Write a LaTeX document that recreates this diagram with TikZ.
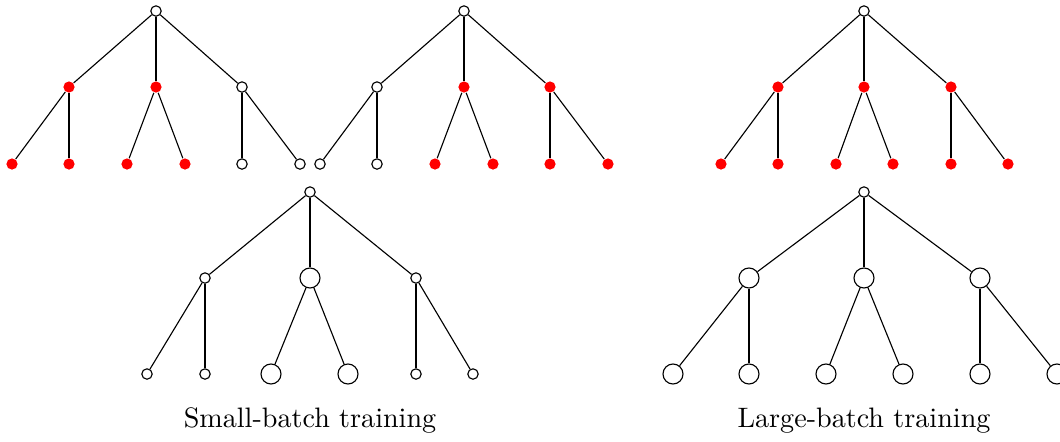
\documentclass[tikz,border=0pt]{standalone}
\begin{document}
\begin{tikzpicture}[x = 0.0125cm, y = -0.0125cm,
        wnode/.style = {circle, draw, fill = white, inner sep = 0pt, minimum size = 0.13cm},
        rnode/.style = {circle, fill = red, inner sep = 0pt, minimum size = 0.14cm},
        bnode/.style = {circle, draw, fill = white, inner sep = 0pt, minimum size = 0.25cm}]
        \useasboundingbox (0, 0) rectangle (1060, 441);
        % small batch, first step
        \node [wnode] (t1) at (156, 11) {};
        \node [rnode] (t1a) at (69, 87) {};
        \node [rnode] (t1b) at (156, 87) {};
        \node [wnode] (t1c) at (242, 87) {};
        \node [rnode] (t1a1) at (12, 164) {};
        \node [rnode] (t1a2) at (69, 164) {};
        \node [rnode] (t1b1) at (127, 164) {};
        \node [rnode] (t1b2) at (185, 164) {};
        \node [wnode] (t1c1) at (242, 164) {};
        \node [wnode] (t1c2) at (300, 164) {};
        % small batch, second step
        \node [wnode] (t2) at (464, 11) {};
        \node [wnode] (t2a) at (377, 87) {};
        \node [rnode] (t2b) at (464, 87) {};
        \node [rnode] (t2c) at (550, 87) {};
        \node [wnode] (t2a1) at (320, 164) {};
        \node [wnode] (t2a2) at (377, 164) {};
        \node [rnode] (t2b1) at (435, 164) {};
        \node [rnode] (t2b2) at (493, 164) {};
        \node [rnode] (t2c1) at (550, 164) {};
        \node [rnode] (t2c2) at (608, 164) {};
        % large batch
        \node [wnode] (t3) at (864, 11) {};
        \node [rnode] (t3a) at (778, 87) {};
        \node [rnode] (t3b) at (864, 87) {};
        \node [rnode] (t3c) at (951, 87) {};
        \node [rnode] (t3a1) at (721, 164) {};
        \node [rnode] (t3a2) at (778, 164) {};
        \node [rnode] (t3b1) at (836, 164) {};
        \node [rnode] (t3b2) at (893, 164) {};
        \node [rnode] (t3c1) at (951, 164) {};
        \node [rnode] (t3c2) at (1008, 164) {};
        % small batch result
        \node [wnode] (t4) at (310, 192) {};
        \node [wnode] (t4a) at (205, 278) {};
        \node [bnode] (t4b) at (310, 278) {};
        \node [wnode] (t4c) at (416, 278) {};
        \node [wnode] (t4a1) at (147, 374) {};
        \node [wnode] (t4a2) at (205, 374) {};
        \node [bnode] (t4b1) at (271, 374) {};
        \node [bnode] (t4b2) at (348, 374) {};
        \node [wnode] (t4c1) at (416, 374) {};
        \node [wnode] (t4c2) at (473, 374) {};
        % large batch result
        \node [wnode] (t5) at (864, 192) {};
        \node [bnode] (t5a) at (749, 278) {};
        \node [bnode] (t5b) at (864, 278) {};
        \node [bnode] (t5c) at (980, 278) {};
        \node [bnode] (t5a1) at (673, 374) {};
        \node [bnode] (t5a2) at (749, 374) {};
        \node [bnode] (t5b1) at (826, 374) {};
        \node [bnode] (t5b2) at (903, 374) {};
        \node [bnode] (t5c1) at (980, 374) {};
        \node [bnode] (t5c2) at (1057, 374) {};
        \foreach \t in {1, ..., 5} {
            \foreach \c in {a, b, c} {
                \draw (t\t) -- (t\t\c);
                \draw (t\t\c) -- (t\t\c1);
                \draw (t\t\c) -- (t\t\c2);
            }
        }
        \node [anchor = base] (small) at (310, 427) {Small-batch training};
        \node [anchor = base] (large) at (864, 427) {Large-batch training};
    \end{tikzpicture}
\end{document}
